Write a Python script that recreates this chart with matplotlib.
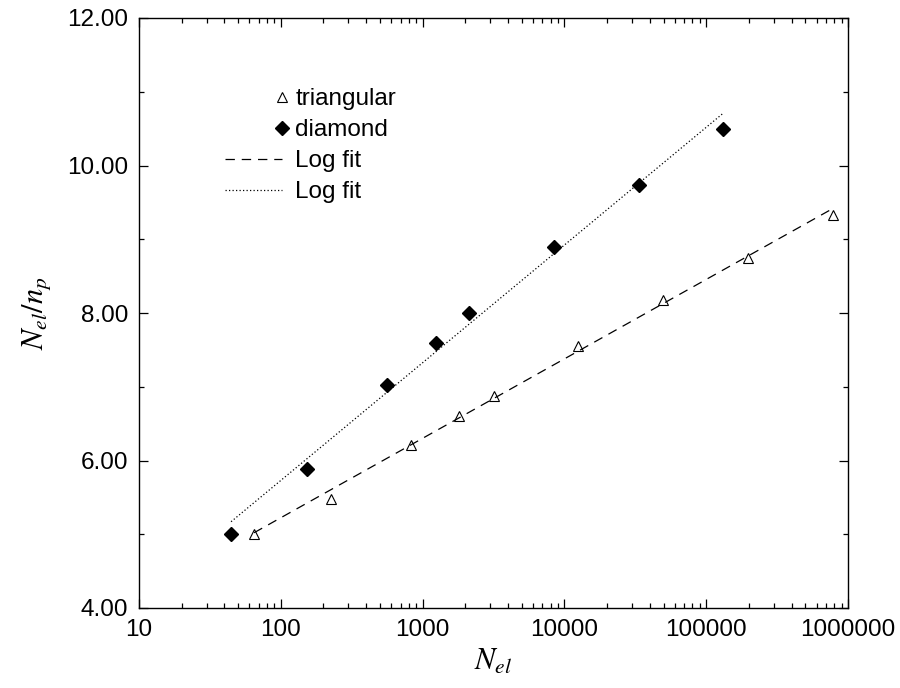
import numpy as np
import matplotlib
matplotlib.use('Agg')
import matplotlib.pyplot as plt
from matplotlib.ticker import FixedLocator, FuncFormatter, LogLocator, NullFormatter
from matplotlib.legend_handler import HandlerLine2D

# Data
tri_x = [64.7, 225, 828, 1800, 3200, 12500, 49300, 196000, 787000]
tri_y = [5.00, 5.48, 6.21, 6.60, 6.88, 7.55, 8.17, 8.75, 9.33]

dia_x = [44.6, 152, 560, 1240, 2130, 8500, 33600, 132000]
dia_y = [5.00, 5.88, 7.02, 7.60, 8.00, 8.90, 9.73, 10.49]

# end points of the two fitted lines (straight in semilog)
fit_tri_x = [64.7, 787000]
fit_tri_y = [5.02, 9.42]
fit_dia_x = [44.6, 132000]
fit_dia_y = [5.17, 10.71]

y_ticks = [4, 6, 8, 10, 12]

plt.rcParams['font.family'] = ['Liberation Sans', 'DejaVu Sans']
plt.rcParams['mathtext.fontset'] = 'stix'


class MarkerAtEnd(HandlerLine2D):
    """single legend marker drawn at the right end of the handle"""
    def get_xdata(self, legend, xdescent, ydescent, width, height, fontsize):
        x = np.array([-xdescent + width])
        return x, x


fig = plt.figure(figsize=(9, 6.88), dpi=100)
ax = fig.add_axes([139 / 900, 1 - 608 / 688, 709 / 900, 590 / 688])

h_tri, = ax.plot(tri_x, tri_y, linestyle='none', marker='^', ms=7.5,
                 mfc='white', mec='black', mew=0.8, label='triangular')
h_dia, = ax.plot(dia_x, dia_y, linestyle='none', marker='D', ms=7.6,
                 mfc='black', mec='black', label='diamond')
h_fit1, = ax.plot(fit_tri_x, fit_tri_y, color='black', lw=0.9,
                  linestyle=(0, (7.5, 5.5)), label='Log fit')
h_fit2, = ax.plot(fit_dia_x, fit_dia_y, color='black', lw=0.9,
                  linestyle=(0, (1, 1.8)), label='Log fit')

ax.set_xscale('log')
ax.set_xlim(10, 1e6)
ax.set_ylim(4, 12)

ax.xaxis.set_major_locator(LogLocator(base=10, numticks=10))
ax.xaxis.set_minor_locator(LogLocator(base=10, subs=np.arange(2, 10), numticks=100))
ax.xaxis.set_major_formatter(FuncFormatter(lambda v, p: f'{v:.0f}'))
ax.xaxis.set_minor_formatter(NullFormatter())

ax.yaxis.set_major_locator(FixedLocator(y_ticks))
ax.yaxis.set_minor_locator(FixedLocator([5, 7, 9, 11]))
ax.yaxis.set_major_formatter(FuncFormatter(lambda v, p: f'{v:.2f}'))

ax.tick_params(which='both', direction='in', top=True, right=True,
               labelsize=17.5, width=0.9, colors='black')
ax.tick_params(which='major', length=6.5, pad=8)
ax.tick_params(which='minor', length=3.8)
for sp in ax.spines.values():
    sp.set_linewidth(1.0)

ax.set_xlabel(r'$N_{el}$', fontsize=22, labelpad=4)
ax.set_ylabel(r'$N_{el}/n_p$', fontsize=22, labelpad=10)

ax.legend(handles=[h_tri, h_dia, h_fit1, h_fit2],
          handler_map={h_tri: MarkerAtEnd(numpoints=2), h_dia: MarkerAtEnd(numpoints=2)},
          loc='upper left', bbox_to_anchor=(0.1213, 0.881), frameon=False,
          fontsize=17.5, handlelength=2.35, handletextpad=0.55,
          labelspacing=0.37, borderpad=0, borderaxespad=0, numpoints=1)

fig.savefig('out.png', dpi=100)
